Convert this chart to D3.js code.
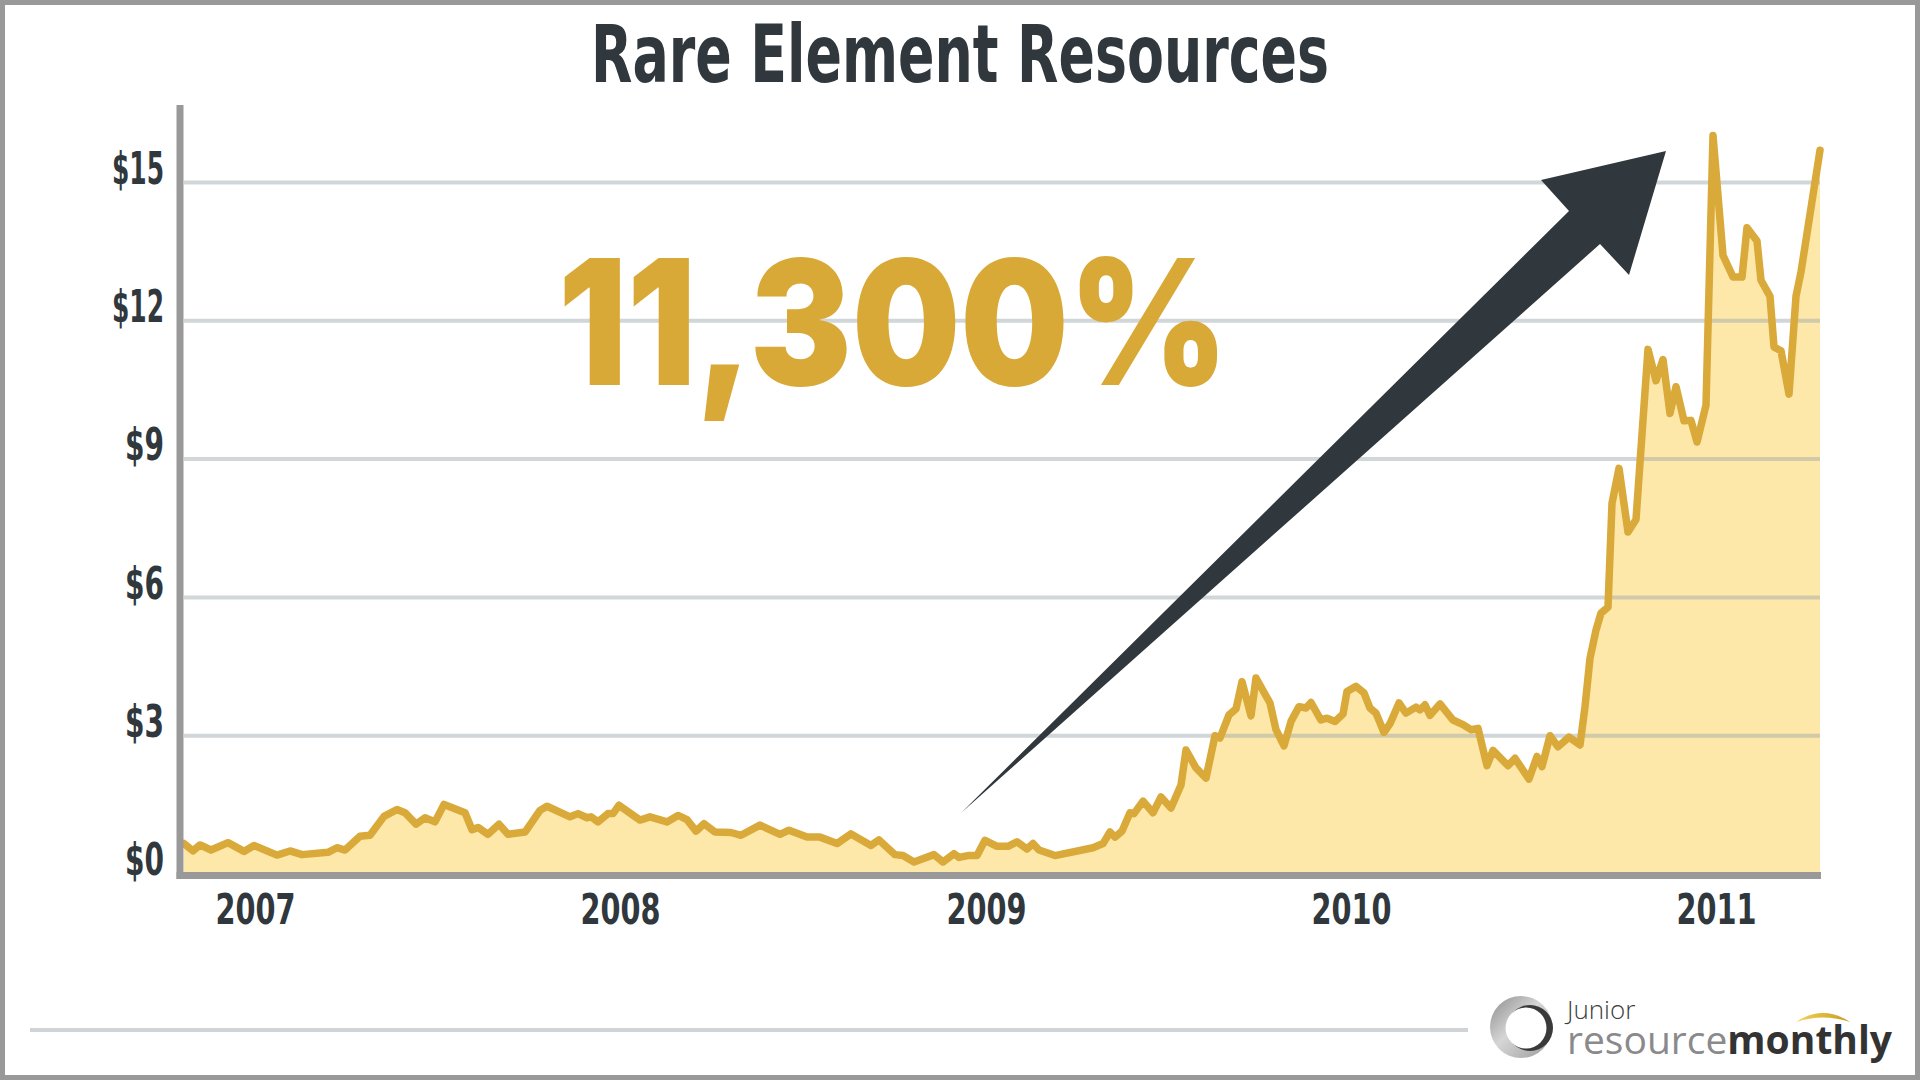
<!DOCTYPE html>
<html>
<head>
<meta charset="utf-8">
<script src="https://cdn.jsdelivr.net/npm/d3@7"></script>
<style>
  html, body { margin: 0; padding: 0; background: #fff; }
  svg { display: block; }
  .cond { font-family: 'Liberation Sans Narrow', 'DejaVu Sans Condensed', 'Roboto Condensed', sans-serif; font-stretch: condensed; font-weight: bold; }
</style>
</head>
<body>
<svg id="chart" width="1920" height="1080"></svg>
<script>
// weekly-ish closing prices
var dates = [
  "2006-10-22","2006-10-31","2006-11-07","2006-11-18","2006-12-05","2006-12-21","2006-12-31",
  "2007-01-23","2007-02-05","2007-02-17","2007-03-15","2007-03-24","2007-04-01","2007-04-16","2007-04-26",
  "2007-05-10","2007-05-23","2007-05-31","2007-06-11","2007-06-20","2007-06-30","2007-07-09","2007-07-30",
  "2007-08-06","2007-08-12","2007-08-22","2007-09-02","2007-09-11","2007-09-28","2007-10-13","2007-10-20",
  "2007-11-12","2007-11-20","2007-11-29","2007-12-03","2007-12-10","2007-12-20","2007-12-25","2007-12-31",
  "2008-01-21","2008-01-31","2008-02-17","2008-02-28","2008-03-08","2008-03-17","2008-03-25","2008-04-05",
  "2008-04-21","2008-05-01","2008-05-20","2008-06-09","2008-06-18","2008-07-06","2008-07-19","2008-08-05",
  "2008-08-19","2008-09-08","2008-09-16","2008-10-02","2008-10-10","2008-10-21","2008-11-10","2008-11-19",
  "2008-11-30","2008-12-05","2008-12-14","2008-12-23","2008-12-31",
  "2009-01-12","2009-01-23","2009-02-01","2009-02-11","2009-02-17","2009-02-23","2009-03-11","2009-04-18",
  "2009-04-28","2009-05-05","2009-05-10","2009-05-17","2009-05-25","2009-05-29","2009-06-07","2009-06-17",
  "2009-06-25","2009-07-05","2009-07-15","2009-07-20","2009-07-30","2009-08-09","2009-08-18","2009-08-23",
  "2009-09-01","2009-09-08","2009-09-14","2009-09-23","2009-09-28","2009-10-12","2009-10-18","2009-10-26",
  "2009-11-02","2009-11-10","2009-11-17","2009-11-22","2009-12-02","2009-12-08","2009-12-16","2009-12-24",
  "2009-12-28",
  "2010-01-06","2010-01-14","2010-01-20","2010-01-26","2010-02-03","2010-02-09","2010-02-18","2010-02-25",
  "2010-03-07","2010-03-11","2010-03-16","2010-03-21","2010-03-31","2010-04-13","2010-04-23","2010-05-01",
  "2010-05-08","2010-05-17","2010-05-23","2010-06-07","2010-06-14","2010-06-28","2010-07-06","2010-07-11",
  "2010-07-19","2010-07-27","2010-08-07","2010-08-18","2010-08-23","2010-08-28","2010-09-03","2010-09-08",
  "2010-09-15","2010-09-19","2010-09-26","2010-10-05","2010-10-13","2010-10-25","2010-11-02","2010-11-09",
  "2010-11-16","2010-11-22","2010-11-30","2010-12-07","2010-12-13","2010-12-22","2010-12-29",
  "2011-01-08","2011-01-18","2011-01-27","2011-02-01","2011-02-11","2011-02-15","2011-02-24","2011-02-28",
  "2011-03-07","2011-03-15","2011-03-22","2011-03-27","2011-04-15"
]
var prices = [
  0.66,0.50,0.63,0.52,0.68,0.49,0.62,
  0.41,0.50,0.42,0.47,0.57,0.52,0.82,0.84,
  1.25,1.40,1.33,1.08,1.22,1.13,1.51,1.33,
  0.96,1.01,0.86,1.08,0.86,0.91,1.38,1.47,
  1.24,1.31,1.22,1.24,1.13,1.31,1.31,1.49,
  1.17,1.24,1.13,1.27,1.18,0.93,1.09,0.91,
  0.90,0.84,1.06,0.86,0.95,0.80,0.80,0.66,
  0.87,0.62,0.74,0.42,0.40,0.26,0.42,0.26,
  0.44,0.36,0.40,0.40,0.73,
  0.60,0.60,0.70,0.54,0.66,0.52,0.40,0.57,
  0.66,0.91,0.80,0.93,1.33,1.31,1.58,1.33,
  1.67,1.43,1.93,2.69,2.30,2.08,3.00,2.95,
  3.45,3.58,4.17,3.43,4.25,3.71,3.13,2.78,
  3.31,3.63,3.60,3.72,3.34,3.38,3.31,3.47,
  3.96,
  4.07,3.93,3.60,3.49,3.07,3.26,3.71,3.49,
  3.62,3.56,3.67,3.44,3.69,3.34,3.24,3.13,
  3.16,2.35,2.68,2.35,2.51,2.06,2.55,2.33,
  3.00,2.76,2.97,2.80,3.63,4.68,5.29,5.66,
  5.79,8.04,8.80,7.42,7.69,11.38,10.70,11.16,
  9.99,10.57,9.83,9.84,9.37,10.17,16.02,
  13.42,12.95,12.95,14.02,13.73,12.88,12.53,11.43,
  11.35,10.41,12.53,13.06,15.70
]
var yTicks = [0, 3, 6, 9, 12, 15]
var titleText = "Rare Element Resources"
var gainText = "11,300%"

var parseDate = d3.timeParse("%Y-%m-%d")
var series = dates.map(function(d, i) { return {date: parseDate(d), price: prices[i]}; })

var dark = "#30383d"
var gold = "#d9a93a"
var goldFill = "#fee8a9"
var axisGray = "#999999"

var xleft = 184
var xright = 1820
var ybottom = 874

var svg = d3.select("#chart")

var x = d3.scaleTime()
    .domain(d3.extent(series, function(d) { return d.date; }))
    .range([xleft, xright])

var y = d3.scaleLinear()
    .domain([0, 15])
    .range([ybottom, 182.5])

// frame
svg.append("rect")
    .attr("x", 2.5).attr("y", 2.5)
    .attr("width", 1915).attr("height", 1075)
    .attr("fill", "#fff")
    .attr("stroke", axisGray)
    .attr("stroke-width", 5)

// title
svg.append("text")
    .attr("class", "cond")
    .attr("x", 960)
    .attr("y", 82)
    .attr("text-anchor", "middle")
    .attr("font-size", "80px")
    .attr("fill", dark)
    .attr("textLength", 738)
    .attr("lengthAdjust", "spacingAndGlyphs")
    .text(titleText)

// area under the line
var areaFunction = d3.area()
    .x(function(d) { return x(d.date); })
    .y0(y(0))
    .y1(function(d) { return y(d.price); })

svg.append("path")
    .datum(series)
    .attr("d", areaFunction)
    .attr("fill", goldFill)

// gridlines, drawn over the fill so they show through it
svg.append("g")
    .attr("id", "grid")
    .selectAll("line")
    .data(yTicks.filter(function(d) { return d > 0; }))
    .enter()
    .append("line")
    .attr("x1", xleft)
    .attr("x2", xright)
    .attr("y1", function(d) { return y(d); })
    .attr("y2", function(d) { return y(d); })
    .attr("stroke", "#9aa3ab")
    .attr("stroke-opacity", 0.45)
    .attr("stroke-width", 4)

var lineFunction = d3.line()
    .x(function(d) { return x(d.date); })
    .y(function(d) { return y(d.price); })

svg.append("path")
    .datum(series)
    .attr("d", lineFunction)
    .attr("fill", "none")
    .attr("stroke", gold)
    .attr("stroke-width", 7.5)
    .attr("stroke-linejoin", "round")
    .attr("stroke-linecap", "round")

// axis bars
svg.append("rect")
    .attr("x", 176.5).attr("y", 105)
    .attr("width", 7).attr("height", 774)
    .attr("fill", axisGray)
svg.append("rect")
    .attr("x", 176.5).attr("y", 872)
    .attr("width", xright + 1 - 176.5).attr("height", 7)
    .attr("fill", axisGray)

// y tick labels
var yAxis = d3.axisLeft(y)
    .tickValues(yTicks)
    .tickSize(0)
    .tickPadding(0)
    .tickFormat(function(d) { return "$" + d; })

var yaxisG = svg.append("g")
    .attr("transform", "translate(164,0)")
    .call(yAxis)
yaxisG.select(".domain").remove()
yaxisG.selectAll("text")
    .attr("class", "cond")
    .attr("x", 0)
    .attr("dy", "0.02em")
    .attr("font-size", "44px")
    .attr("fill", dark)
    .attr("textLength", function(d) { return 13 * (String(d).length + 2); })
    .attr("lengthAdjust", "spacingAndGlyphs")

// x tick labels
var xAxis = d3.axisBottom(x)
    .ticks(d3.timeYear.every(1))
    .tickSize(0)
    .tickFormat(d3.timeFormat("%Y"))

var xaxisG = svg.append("g")
    .attr("transform", "translate(0,879)")
    .call(xAxis)
xaxisG.select(".domain").remove()
xaxisG.selectAll("text")
    .attr("class", "cond")
    .attr("y", 45)
    .attr("dy", 0)
    .attr("font-size", "43px")
    .attr("fill", dark)
    .attr("textLength", 80)
    .attr("lengthAdjust", "spacingAndGlyphs")

// big gain figure
svg.append("text")
    .attr("x", 558)
    .attr("y", 385)
    .attr("font-family", "Inter, Roboto, 'Open Sans', sans-serif")
    .attr("font-weight", 900)
    .attr("font-size", "174px")
    .attr("fill", "#d9a937")
    .attr("textLength", 670)
    .attr("lengthAdjust", "spacingAndGlyphs")
    .text(gainText)

// arrow
svg.append("path")
    .attr("d", "M961,813 L1569,211 L1541,180 L1666,151 L1629,275 L1600,244 Z")
    .attr("fill", dark)

// footer rule
svg.append("rect")
    .attr("x", 30).attr("y", 1028)
    .attr("width", 1438).attr("height", 4)
    .attr("fill", "#d1d4d7")

// logo
var defs = svg.append("defs")
var grad = defs.append("linearGradient")
    .attr("id", "ringGrad")
    .attr("x1", "0").attr("y1", "0")
    .attr("x2", "1").attr("y2", "1")
grad.append("stop").attr("offset", "0").attr("stop-color", "#8c8c8c")
grad.append("stop").attr("offset", "0.45").attr("stop-color", "#d6d6d6")
grad.append("stop").attr("offset", "1").attr("stop-color", "#9a9a9a")
var arcGrad = defs.append("linearGradient")
    .attr("id", "arcGrad")
arcGrad.append("stop").attr("offset", "0").attr("stop-color", "#f3d25a")
arcGrad.append("stop").attr("offset", "1").attr("stop-color", "#c99a1e")

var logo = svg.append("g").attr("id", "logo")
logo.append("circle").attr("cx", 1521).attr("cy", 1027).attr("r", 31).attr("fill", "url(#ringGrad)")
logo.append("circle").attr("cx", 1530).attr("cy", 1028).attr("r", 23).attr("fill", "#3a3a3a")
logo.append("circle").attr("cx", 1526).attr("cy", 1028).attr("r", 20.5).attr("fill", "#fff")

// two-line wordmark in one text block
var brand = logo.append("text")
    .attr("font-family", "'Open Sans', Roboto, sans-serif")
brand.append("tspan")
    .attr("x", 1567).attr("y", 1019)
    .attr("font-weight", 300)
    .attr("font-size", "26px")
    .attr("fill", "#3c3c3c")
    .text("Junior")
brand.append("tspan")
    .attr("x", 1567).attr("y", 1054)
    .attr("font-size", "39px")
    .attr("fill", "#8a8a8c")
    .attr("font-weight", 500)
    .text("resource")
brand.append("tspan")
    .attr("font-size", "39px")
    .attr("fill", "#333333")
    .attr("font-weight", 700)
    .text("monthly")

logo.append("path")
    .attr("d", "M1796,1022 Q1823,1004 1850,1022 Q1823,1013 1796,1022 Z")
    .attr("fill", "url(#arcGrad)")
</script>
</body>
</html>
